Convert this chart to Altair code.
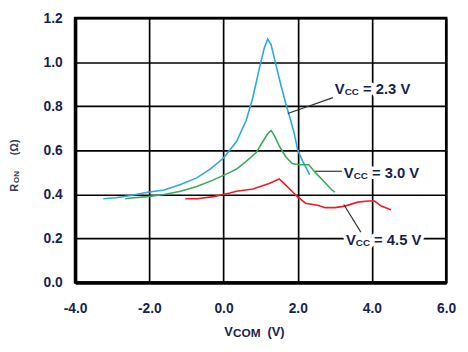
import altair as alt
import pandas as pd

# ---------------- data ----------------
# Vcc = 2.3 V (blue)
blue_x = [-3.24, -2.9, -2.5, -2.05, -1.6, -1.16, -0.72, -0.36, 0.0, 0.35, 0.61, 0.79,
          0.97, 1.10, 1.19, 1.28, 1.41, 1.54, 1.68, 1.81, 1.90, 2.0, 2.15, 2.32]
blue_y = [0.38, 0.385, 0.395, 0.41, 0.42, 0.445, 0.475, 0.515, 0.565, 0.64, 0.735, 0.84,
          0.975, 1.065, 1.105, 1.08, 0.99, 0.90, 0.81, 0.735, 0.68, 0.60, 0.545, 0.49]

# Vcc = 3.0 V (green)
green_x = [-2.65, -2.49, -2.05, -1.6, -1.16, -0.72, -0.27, 0.17, 0.35, 0.61, 0.88, 1.06,
           1.19, 1.28, 1.36, 1.50, 1.68, 1.85, 2.03, 2.30, 2.47, 2.70, 2.92, 3.0]
green_y = [0.38, 0.384, 0.39, 0.40, 0.414, 0.436, 0.466, 0.50, 0.515, 0.55, 0.59, 0.64,
           0.675, 0.69, 0.67, 0.62, 0.57, 0.54, 0.535, 0.535, 0.50, 0.46, 0.42, 0.41]

# Vcc = 4.5 V (red)
red_x = [-1.03, -0.72, -0.27, 0.17, 0.35, 0.79, 1.23, 1.50, 1.63, 1.81, 1.99, 2.21,
         2.56, 2.74, 3.0, 3.27, 3.62, 3.89, 4.07, 4.25, 4.51]
red_y = [0.38, 0.38, 0.39, 0.406, 0.414, 0.425, 0.45, 0.47, 0.45, 0.42, 0.39, 0.36,
         0.35, 0.34, 0.34, 0.347, 0.365, 0.37, 0.37, 0.347, 0.33]

series_names = ["2.3", "3.0", "4.5"]
series_colors = ["#29A9E1", "#3AAA5C", "#EE1C25"]

x_ticks = [-4, -2, 0, 2, 4, 6]
y_ticks = [0.0, 0.2, 0.4, 0.6, 0.8, 1.0, 1.2]

# annotations (data units)
ann_text = ["= 2.3 V", "= 3.0 V", "= 4.5 V"]
ann_x = [3.0, 3.24, 3.30]
ann_y = [0.857, 0.475, 0.17]
lead_x1 = [1.73, 2.47, 3.24]
lead_y1 = [0.767, 0.505, 0.354]
lead_x2 = [2.95, 3.19, 3.70]
lead_y2 = [0.839, 0.505, 0.229]

x_title_parts = ["V", "COM", "(V)"]
y_title_parts = ["R", "ON", "(\u03a9)"]

# ---------------- tables ----------------
rows = []
for name, xs, ys in zip(series_names, [blue_x, green_x, red_x], [blue_y, green_y, red_y]):
    for i, (a, b) in enumerate(zip(xs, ys)):
        rows.append({"series": name, "x": a, "y": b, "order": i})
curves = pd.DataFrame(rows)

ann = pd.DataFrame({"x": ann_x, "y": ann_y, "rest": ann_text,
                    "v": ["V"] * 3, "sub": ["CC"] * 3})
leads = pd.DataFrame({"x": lead_x1, "y": lead_y1, "x2": lead_x2, "y2": lead_y2})

FONT = "Liberation Sans"
TXT = "#1a1f4d"

xscale = alt.Scale(domain=[-4, 6], nice=False, zero=False)
yscale = alt.Scale(domain=[0, 1.2], nice=False, zero=False)

X = alt.X("x:Q", scale=xscale, title=None,
          axis=alt.Axis(values=x_ticks, grid=True, ticks=False, labelPadding=19,
                        labelFlush=False, labelOverlap=False, labelAlign="center",
                        domainWidth=3.5,
                        labelExpr="(datum.value < 0 ? '-' : '') + format(abs(datum.value), '.1f')"))
Y = alt.Y("y:Q", scale=yscale, title=None,
          axis=alt.Axis(values=y_ticks, grid=True, ticks=False, labelPadding=13,
                        labelFlush=False, labelOverlap=False, domainWidth=3.5, format=".1f"))

Xp = alt.X("x:Q", scale=xscale, title=None)
Yp = alt.Y("y:Q", scale=yscale, title=None)

lines = alt.Chart(curves).mark_line(strokeWidth=1.6).encode(
    x=X, y=Y,
    color=alt.Color("series:N", scale=alt.Scale(domain=series_names, range=series_colors), legend=None),
    order="order:Q",
)

def ann_layers(color, halo):
    kw = dict(font=FONT, fontWeight="bold", align="left", baseline="alphabetic", color=color)
    if halo:
        kw.update(stroke="white", strokeWidth=7, strokeJoin="round")
    base = alt.Chart(ann)
    return [
        base.mark_text(fontSize=15, dx=0, **kw).encode(x=Xp, y=Yp, text="v:N"),
        base.mark_text(fontSize=10, dx=10, dy=1, **kw).encode(x=Xp, y=Yp, text="sub:N"),
        base.mark_text(fontSize=15, dx=28.5, **kw).encode(x=Xp, y=Yp, text="rest:N"),
    ]

halos = ann_layers("white", True)
texts = ann_layers(TXT, False)

leaders = alt.Chart(leads).mark_rule(color="#333333", strokeWidth=1.2).encode(
    x=Xp, y=Yp, x2="x2:Q", y2="y2:Q")

def piece(label, px, py, size, angle=0, color=TXT, align="left"):
    return alt.Chart(pd.DataFrame({"t": [label]})).mark_text(
        font=FONT, fontWeight="bold", fontSize=size, angle=angle, align=align,
        baseline="middle", color=color,
    ).encode(x=alt.value(px), y=alt.value(py), text="t:N")

xt = [
    piece(x_title_parts[0], 151, 318, 13),
    piece(x_title_parts[1], 160, 319.5, 12),
    piece(x_title_parts[2], 195, 318, 13),
]
yt = [
    piece(y_title_parts[0], -60.5, 172, 11, angle=270, color="#3a3a55", align="center"),
    piece(y_title_parts[1], -58.5, 161, 8, angle=270, color="#3a3a55", align="center"),
    piece(y_title_parts[2], -60.5, 131, 11, angle=270, color="#3a3a55", align="center"),
]

chart = alt.layer(lines, *halos, leaders, *texts, *xt, *yt).properties(
    width=376, height=268,
    autosize=alt.AutoSizeParams(type="none"),
    padding={"left": 68, "top": 8, "right": 14, "bottom": 60},
).configure_view(
    stroke="black", strokeWidth=2.5
).configure_axis(
    gridColor="black", gridWidth=1.7, gridOpacity=1,
    domainColor="black",
    labelFont=FONT, labelFontSize=14, labelFontWeight="bold", labelColor=TXT,
)

chart.save("out.html", embed_options={"renderer": "svg", "actions": False})
